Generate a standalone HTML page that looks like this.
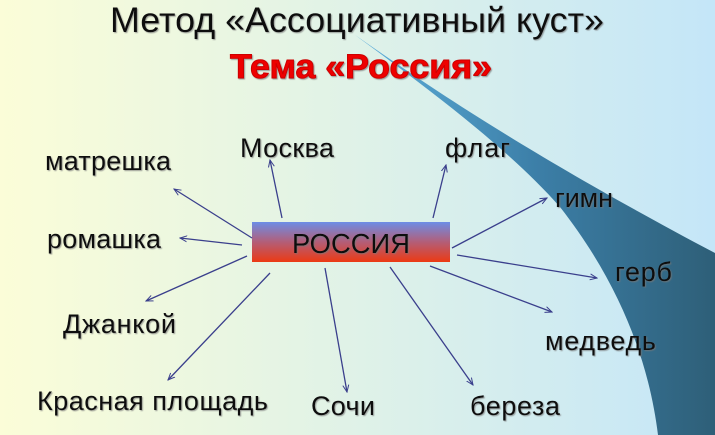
<!DOCTYPE html>
<html><head><meta charset="utf-8"><style>
html,body{margin:0;padding:0;width:715px;height:435px;overflow:hidden}
svg{display:block}
text{font-family:"Liberation Sans","DejaVu Sans",sans-serif}
</style></head><body>
<svg width="715" height="435" viewBox="0 0 715 435" xmlns="http://www.w3.org/2000/svg">
<defs>
<linearGradient id="bg" x1="0" y1="0" x2="1" y2="0">
<stop offset="0" stop-color="#fbfdd8"/><stop offset="0.45" stop-color="#e2f3e6"/><stop offset="1" stop-color="#c4e6f8"/>
</linearGradient>
<linearGradient id="sw" x1="0" y1="0" x2="1" y2="0">
<stop offset="0" stop-color="#5fb0dc"/><stop offset="0.5" stop-color="#3c7fa8"/><stop offset="1" stop-color="#2e5f78"/>
</linearGradient>
<linearGradient id="box" x1="0" y1="0" x2="0" y2="1">
<stop offset="0" stop-color="#6d8de6"/><stop offset="0.5" stop-color="#b35e78"/><stop offset="1" stop-color="#ec3a14"/>
</linearGradient>
<marker id="a" markerWidth="8" markerHeight="8" refX="7" refY="4" orient="auto" markerUnits="userSpaceOnUse">
<path d="M0,1 L7,4 L0,7" fill="none" stroke="#3a3f8c" stroke-width="1"/>
</marker>
<filter id="sh"><feDropShadow dx="1" dy="1" stdDeviation="0.6" flood-color="#777" flood-opacity="0.7"/></filter>
</defs>
<rect width="715" height="435" fill="url(#bg)"/>
<path d="M355,35 C420,80 520,150 715,253 L715,435 L658,435 C650,370 625,290 560,207 C510,150 430,90 355,35 Z" fill="url(#sw)"/>
<text x="357" y="32" font-size="35" text-anchor="middle" fill="#111" filter="url(#sh)" textLength="494" lengthAdjust="spacingAndGlyphs">Метод «Ассоциативный куст»</text>
<text x="361" y="78" font-size="34" font-weight="bold" text-anchor="middle" fill="#e00" stroke="#c00" stroke-width="1" filter="url(#sh)" textLength="262" lengthAdjust="spacingAndGlyphs">Тема «Россия»</text>
<rect x="252" y="222" width="198" height="40" fill="url(#box)"/>
<text x="351" y="253" font-size="28" text-anchor="middle" fill="#111" filter="url(#sh)" textLength="118" lengthAdjust="spacingAndGlyphs">РОССИЯ</text>
<g stroke="#3a3f8c" stroke-width="1.3" fill="none" marker-end="url(#a)">
<line x1="252" y1="238" x2="174" y2="189"/>
<line x1="242" y1="245" x2="180" y2="238"/>
<line x1="247" y1="256" x2="146" y2="301"/>
<line x1="270" y1="273" x2="168" y2="380"/>
<line x1="282" y1="218" x2="270" y2="160"/>
<line x1="433" y1="218" x2="446" y2="165"/>
<line x1="452" y1="248" x2="547" y2="198"/>
<line x1="457" y1="255" x2="597" y2="278"/>
<line x1="430" y1="266" x2="552" y2="312"/>
<line x1="390" y1="267" x2="473" y2="385"/>
<line x1="325" y1="268" x2="347" y2="392"/>
</g>
<g font-size="27" fill="#111" filter="url(#sh)" lengthAdjust="spacingAndGlyphs">
<text x="45" y="170" textLength="126">матрешка</text>
<text x="47" y="248" textLength="114">ромашка</text>
<text x="63" y="333" textLength="113">Джанкой</text>
<text x="37" y="410" textLength="231">Красная площадь</text>
<text x="240" y="157" textLength="94">Москва</text>
<text x="445" y="157" textLength="65">флаг</text>
<text x="555" y="207" textLength="58">гимн</text>
<text x="615" y="281" textLength="57">герб</text>
<text x="545" y="350" textLength="111">медведь</text>
<text x="470" y="415" textLength="90">береза</text>
<text x="311" y="415" textLength="64">Сочи</text>
</g>
</svg>
</body></html>
